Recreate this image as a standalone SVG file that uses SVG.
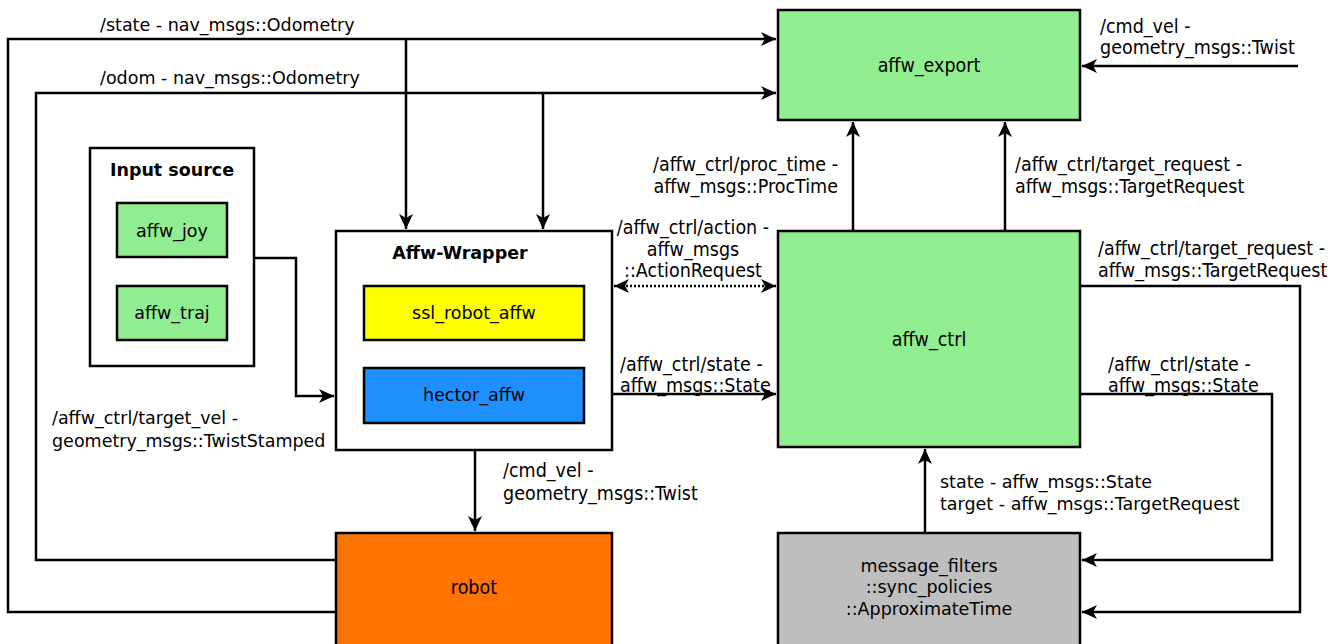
<svg xmlns="http://www.w3.org/2000/svg" width="1344" height="644" viewBox="0 0 1344 644">
<style>
.box{stroke:#000;stroke-width:2.5}
.t{font-family:"DejaVu Sans",sans-serif;font-size:17.5px;fill:#000}
.c{font-family:"DejaVu Sans Condensed","DejaVu Sans",sans-serif;font-size:19.5px;fill:#000}
.b{font-family:"DejaVu Sans",sans-serif;font-size:17.5px;font-weight:bold;fill:#000}
.w{fill:none;stroke:#000;stroke-width:2.5}
.dot{fill:none;stroke:#000;stroke-width:2.5;stroke-dasharray:2 2}
</style>
<defs>
<marker id="ah" viewBox="-16 -8 18 16" refX="0" refY="0" markerWidth="18" markerHeight="16" markerUnits="userSpaceOnUse" orient="auto">
<path d="M0,0 L-15,-7 L-11,0 L-15,7 Z" fill="#000"/>
</marker>
<marker id="as" viewBox="-2 -8 18 16" refX="0" refY="0" markerWidth="18" markerHeight="16" markerUnits="userSpaceOnUse" orient="auto">
<path d="M0,0 L15,-7 L11,0 L15,7 Z" fill="#000"/>
</marker>
</defs>
<rect width="1344" height="644" fill="#fff"/>
<g id="connectors">
<path class="w" d="M336,612 H8 V39 H776" marker-end="url(#ah)"/>
<path class="w" d="M406,39 V229" marker-end="url(#ah)"/>
<path class="w" d="M336,560 H36 V93 H776" marker-end="url(#ah)"/>
<path class="w" d="M543,93 V229" marker-end="url(#ah)"/>
<path class="w" d="M1298,66 H1082" marker-end="url(#ah)"/>
<path class="w" d="M853,231 V122" marker-end="url(#ah)"/>
<path class="w" d="M1005,231 V122" marker-end="url(#ah)"/>
<path class="dot" d="M614,286 H776" marker-start="url(#as)" marker-end="url(#ah)"/>
<path class="w" d="M612,394 H776" marker-end="url(#ah)"/>
<path class="w" d="M1080,286 H1300 V612 H1082" marker-end="url(#ah)"/>
<path class="w" d="M1080,394 H1272 V560 H1082" marker-end="url(#ah)"/>
<path class="w" d="M925,533 V449" marker-end="url(#ah)"/>
<path class="w" d="M475,450 V531" marker-end="url(#ah)"/>
<path class="w" d="M254,258 H296 V396 H334" marker-end="url(#ah)"/>
<text class="t" x="100" y="31">/state - nav_msgs::Odometry</text>
<text class="t" x="100" y="84">/odom - nav_msgs::Odometry</text>
<text class="c" x="1100" y="33">/cmd_vel -</text>
<text class="c" x="1100" y="54">geometry_msgs::Twist</text>
<text class="c" x="838" y="171" text-anchor="end">/affw_ctrl/proc_time -</text>
<text class="c" x="838" y="193" text-anchor="end">affw_msgs::ProcTime</text>
<text class="c" x="1015" y="171">/affw_ctrl/target_request -</text>
<text class="c" x="1015" y="193">affw_msgs::TargetRequest</text>
<text class="c" x="693" y="234" text-anchor="middle">/affw_ctrl/action -</text>
<text class="c" x="693" y="256" text-anchor="middle">affw_msgs</text>
<text class="c" x="693" y="277" text-anchor="middle">::ActionRequest</text>
<text class="c" x="620" y="371">/affw_ctrl/state -</text>
<text class="c" x="620" y="392">affw_msgs::State</text>
<text class="c" x="1098" y="255">/affw_ctrl/target_request -</text>
<text class="c" x="1098" y="277">affw_msgs::TargetRequest</text>
<text class="c" x="1108" y="371">/affw_ctrl/state -</text>
<text class="c" x="1108" y="392">affw_msgs::State</text>
<text class="t" x="940" y="488">state - affw_msgs::State</text>
<text class="t" x="940" y="510">target - affw_msgs::TargetRequest</text>
<text class="c" x="503" y="477">/cmd_vel -</text>
<text class="c" x="503" y="500">geometry_msgs::Twist</text>
<text class="t" x="52" y="424">/affw_ctrl/target_vel -</text>
<text class="t" x="52" y="447">geometry_msgs::TwistStamped</text>
</g>
<g id="affw_export">
<rect class="box" x="778" y="10" width="302" height="110" fill="#90ee90"/>
<text class="c" x="929" y="72" text-anchor="middle">affw_export</text>
</g>
<g id="affw_ctrl">
<rect class="box" x="778" y="231" width="302" height="216" fill="#90ee90"/>
<text class="c" x="929" y="346" text-anchor="middle">affw_ctrl</text>
</g>
<g id="message_filters">
<rect class="box" x="778" y="533" width="302" height="113" fill="#bebebe"/>
<text class="t" x="929" y="572" text-anchor="middle">message_filters</text>
<text class="t" x="929" y="593" text-anchor="middle">::sync_policies</text>
<text class="t" x="929" y="615" text-anchor="middle">::ApproximateTime</text>
</g>
<g id="robot">
<rect class="box" x="336" y="533" width="276" height="113" fill="#ff7300"/>
<text class="c" x="474" y="594" text-anchor="middle">robot</text>
</g>
<g id="affw_wrapper">
<rect class="box" x="336" y="231" width="276" height="219" fill="#fff"/>
<text class="b" x="460" y="259" text-anchor="middle">Affw-Wrapper</text>
<g id="ssl_robot_affw">
<rect class="box" x="364" y="286" width="220" height="54" fill="#ffff00"/>
<text class="t" x="474" y="319" text-anchor="middle">ssl_robot_affw</text>
</g>
<g id="hector_affw">
<rect class="box" x="364" y="368" width="220" height="55" fill="#1e90ff"/>
<text class="t" x="474" y="401" text-anchor="middle">hector_affw</text>
</g>
</g>
<g id="input_source">
<rect class="box" x="90" y="148" width="164" height="218" fill="#fff"/>
<text class="b" x="172" y="176" text-anchor="middle">Input source</text>
<g id="affw_joy">
<rect class="box" x="117" y="203" width="110" height="54" fill="#90ee90"/>
<text class="t" x="172" y="237" text-anchor="middle">affw_joy</text>
</g>
<g id="affw_traj">
<rect class="box" x="117" y="286" width="110" height="54" fill="#90ee90"/>
<text class="t" x="172" y="319" text-anchor="middle">affw_traj</text>
</g>
</g>
</svg>
